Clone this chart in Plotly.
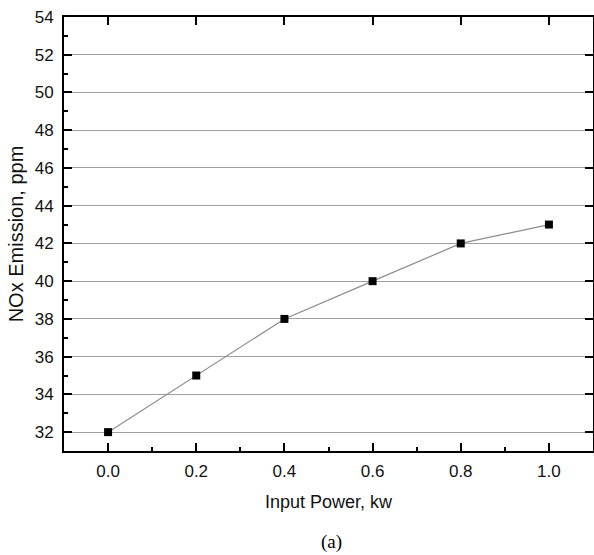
import plotly.graph_objects as go

power_kw = [0.0, 0.2, 0.4, 0.6, 0.8, 1.0]
nox_ppm = [32, 35, 38, 40, 42, 43]
x_ticks = [0.0, 0.2, 0.4, 0.6, 0.8, 1.0]
x_tick_labels = ["0.0", "0.2", "0.4", "0.6", "0.8", "1.0"]
y_ticks = [32, 34, 36, 38, 40, 42, 44, 46, 48, 50, 52, 54]

W, H = 594, 555
fig = go.Figure()
fig.add_trace(go.Scatter(
    x=power_kw, y=nox_ppm, mode="lines+markers",
    line=dict(color="#8c8c8c", width=1.2),
    marker=dict(symbol="square", size=8, color="black"),
    showlegend=False,
))

font_s = "Liberation Sans, Arial, sans-serif"
common = dict(showline=True, linecolor="black", linewidth=2, ticks="inside",
              ticklen=8, tickwidth=1.5, tickcolor="black", zeroline=False)

fig.update_layout(
    width=W, height=H,
    margin=dict(l=64, r=1, t=17, b=104),
    paper_bgcolor="white", plot_bgcolor="white",
    font=dict(family=font_s, size=17, color="#111"),
    xaxis=dict(range=[-0.1, 1.1], tickvals=x_ticks, ticktext=x_tick_labels,
               showgrid=False,
               minor=dict(dtick=0.1, tick0=0, ticks="inside", ticklen=4, tickwidth=1.5, tickcolor="black"),
               title=dict(text="Input Power, kw", font=dict(size=18), standoff=15),
               ticklabelstandoff=4,
               **common),
    yaxis=dict(range=[31, 54], tickvals=y_ticks, showgrid=True, gridcolor="#a0a0a0", gridwidth=1.3,
               minor=dict(dtick=1, tick0=31, ticks="inside", ticklen=4, tickwidth=1.5, tickcolor="black", showgrid=False),
               title=dict(text="NOx Emission, ppm", font=dict(size=20), standoff=6),
               ticklabelstandoff=5,
               **common),
    xaxis2=dict(overlaying="x", side="top", range=[-0.1, 1.1], tickvals=x_ticks,
                showticklabels=False, showgrid=False, **common),
    yaxis2=dict(overlaying="y", side="right", range=[31, 54], tickvals=y_ticks,
                showticklabels=False, showgrid=False, **common),
)
fig.add_trace(go.Scatter(x=[None], y=[None], xaxis="x2", yaxis="y2", showlegend=False, hoverinfo="skip"))

fig.add_annotation(text="(a)", x=0.5, y=0, xref="paper", yref="paper", xanchor="center",
                   yanchor="middle", yshift=-91, xshift=3, showarrow=False,
                   font=dict(family="Liberation Serif, Times New Roman, serif", size=19, color="black"))

fig.write_html("out.html")
